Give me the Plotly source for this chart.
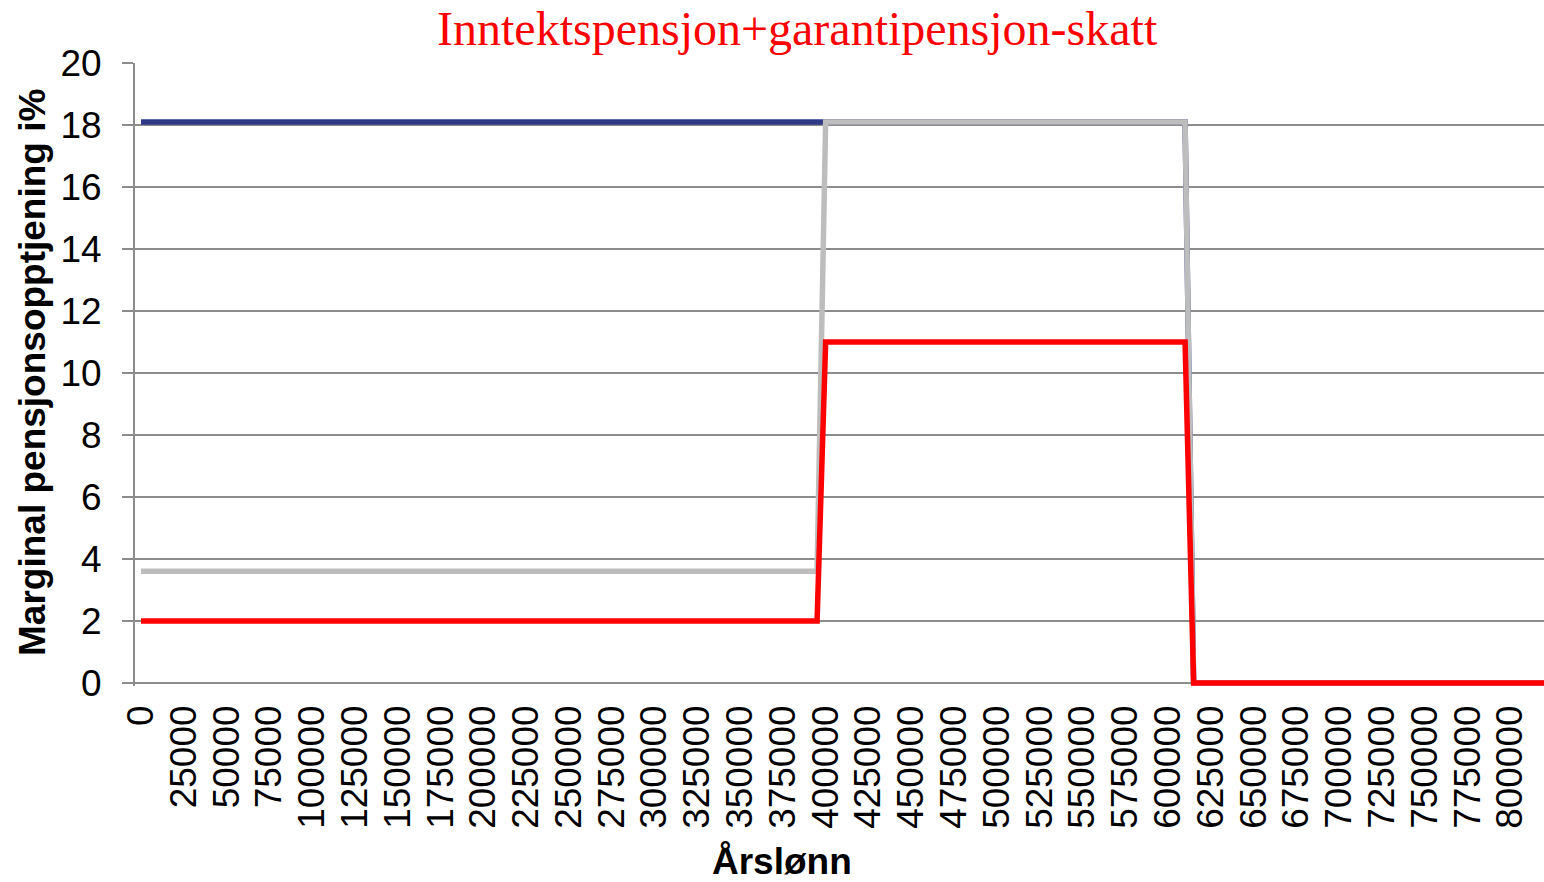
import plotly.graph_objects as go

# Breakpoints of the step series (Årslønn in NOK)
x_blue = [0, 395000, 400000, 610000, 615000, 820000]
y_blue = [18.1, 18.1, 18.1, 18.1, 0, 0]

x_gray = [0, 395000, 400000, 610000, 615000, 820000]
y_gray = [3.6, 3.6, 18.1, 18.1, 0, 0]

x_red = [0, 395000, 400000, 610000, 615000, 820000]
y_red = [2, 2, 11, 11, 0, 0]

tick_vals = list(range(0, 800001, 25000))
tick_text = [str(v) for v in tick_vals]

fig = go.Figure()
fig.add_trace(go.Scatter(x=x_blue, y=y_blue, mode="lines",
                         line=dict(color="#2E3A87", width=5.5), showlegend=False))
fig.add_trace(go.Scatter(x=x_gray, y=y_gray, mode="lines",
                         line=dict(color="#BDBDBD", width=5.5), showlegend=False))
fig.add_trace(go.Scatter(x=x_red, y=y_red, mode="lines",
                         line=dict(color="#FF0000", width=5.5), showlegend=False))

fig.update_layout(
    width=1544, height=882,
    margin=dict(l=135, r=0, t=63, b=196),
    paper_bgcolor="white", plot_bgcolor="white",
    showlegend=False,
    font=dict(family="Liberation Sans, Arial", color="black"),
)
fig.update_xaxes(
    range=[-3500, 819700],
    tickmode="array", tickvals=tick_vals, ticktext=tick_text,
    tickangle=-90, tickfont=dict(size=37, family="Liberation Sans, Arial", color="black"),
    showgrid=False, zeroline=False, showline=False, ticks="",
    ticklabelstandoff=11,
)
fig.update_yaxes(
    range=[-0.1, 20], tickvals=list(range(0, 21, 2)),
    tickfont=dict(size=37, family="Liberation Sans, Arial", color="black"),
    showgrid=True, gridcolor="#8C8C8C", gridwidth=2,
    zeroline=False,
    showline=True, linecolor="#8C8C8C", linewidth=2,
    ticks="outside", ticklen=11, tickcolor="#8C8C8C", tickwidth=2,
    ticklabelstandoff=13,
)

fig.add_annotation(text="Inntektspensjon+garantipensjon-skatt",
                   xref="paper", yref="paper", x=(797-135)/1409, y=1.0,
                   xanchor="center", yanchor="middle",
                   yshift=35, showarrow=False,
                   font=dict(family="Liberation Serif, Times New Roman", size=48, color="#FF0000"))
fig.add_annotation(text="<b>Marginal pensjonsopptjening i%</b>",
                   xref="paper", yref="y", x=0, xshift=-102, y=10.0,
                   xanchor="center", yanchor="middle",
                   textangle=-90, showarrow=False,
                   font=dict(family="Liberation Sans, Arial", size=37, color="black"))
fig.add_annotation(text="<b>Årslønn</b>",
                   xref="paper", yref="y", x=(782-135)/1409, y=0, yshift=-179,
                   xanchor="center", yanchor="middle",
                   showarrow=False,
                   font=dict(family="Liberation Sans, Arial", size=37, color="black"))

fig.write_html("out.html",
               config={"displayModeBar": False},
               post_script="document.body.style.margin='0';document.body.style.overflow='hidden';")
